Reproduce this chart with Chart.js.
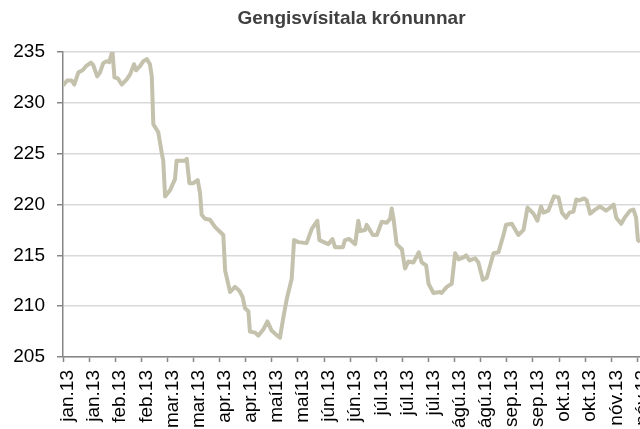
<!DOCTYPE html>
<html><head><meta charset="utf-8">
<script src="https://cdn.jsdelivr.net/npm/chart.js@4/dist/chart.umd.min.js"></script>
<style>html,body{margin:0;padding:0;background:#fff;overflow:hidden}#wrap{width:640px;height:429px;position:relative}</style>
</head><body><div id="wrap"><canvas id="c" width="640" height="429"></canvas></div>
<script>
const chartTitle = 'Gengisvísitala krónunnar';
const tickLabels = ['jan.13','jan.13','feb.13','feb.13','mar.13','mar.13','apr.13','apr.13','maí13','maí13','jún.13','jún.13','júl.13','júl.13','júl.13','ágú.13','ágú.13','sep.13','sep.13','okt.13','okt.13','nóv.13','nóv.13'];
const dayIndex = [0,1.6,3.3,4.3,5.9,7.5,8.8,10.7,11.6,13.1,14.2,15.4,16.7,17.7,18.7,19,19.7,21,22.5,24.4,25.7,27.2,28,29.5,30.8,32.1,33.3,34,34.6,36.5,37.8,38.4,39.1,41,42.9,43.5,46.7,47.4,48.4,49.9,51.6,52.5,53.1,54.4,56.3,58.2,60.2,61.4,62.1,64,65.9,67.6,68.8,69.7,71,71.6,73.6,74.8,76.7,78.3,79.9,81.6,83.1,84.4,85.7,87.6,88.5,90.1,93.3,95.3,97.4,98.2,101.6,103.2,104.2,107.2,108,109.6,111.9,113.1,113.8,115.7,116.3,118.7,120.2,122.1,124,125.3,125.9,126.6,127.8,129.8,131,132.3,134.2,136.3,137.4,139.1,140,141.9,144.4,145,147,148.9,150.2,151.5,153.4,154.4,155.7,157.9,159.1,160.8,162.3,164.9,166.8,168.7,169.7,171.9,174.4,176.4,177.9,180.2,181.7,183.1,184,185.9,188.1,189.8,191.1,192.7,194,195.5,196.6,197.8,199.6,200.6,201.9,203.8,205.7,208,209.6,210.9,211.9,213.8,215.1,217.2,218.5,219.5,220.2,221];
const indexValues = [231.7,232.2,232.2,231.8,233.0,233.2,233.6,233.95,233.7,232.6,233.0,233.9,234.1,234.0,234.9,234.9,232.5,232.4,231.8,232.3,232.8,233.8,233.2,233.6,234.1,234.3,233.8,232.6,227.9,227.1,225.1,224.3,220.8,221.4,222.5,224.3,224.3,224.5,222.1,222.1,222.4,221.1,219.0,218.6,218.5,217.8,217.3,217.0,213.5,211.4,211.9,211.5,210.9,209.8,209.5,207.5,207.4,207.1,207.7,208.5,207.6,207.2,206.9,208.9,210.7,212.7,216.5,216.3,216.2,217.6,218.4,216.5,216.1,216.6,215.8,215.8,216.5,216.6,216.1,218.4,217.4,217.5,218.0,217.0,217.0,218.3,218.2,218.6,219.6,218.6,216.1,215.6,213.7,214.4,214.3,215.3,214.3,214.0,212.2,211.3,211.4,211.3,211.9,212.2,215.2,214.6,214.8,215.0,214.5,214.7,214.3,212.6,212.8,215.2,215.3,217.0,218.0,218.1,217.0,217.5,219.7,219.1,218.4,219.8,219.2,219.4,220.8,220.7,219.2,218.7,219.2,219.3,220.5,220.4,220.6,220.4,219.1,219.5,219.8,219.4,219.7,220.0,218.7,218.1,218.7,219.4,219.5,218.7,216.5,216.3];
const yMin = 205, yMax = 235, yStep = 5;
const FONT = "'Liberation Sans', Arial, sans-serif";

new Chart(document.getElementById('c'), {
  type: 'line',
  data: {
    datasets: [{
      data: dayIndex.map((x, i) => ({x: x, y: indexValues[i]})),
      borderColor: '#C4C1AC',
      borderWidth: 4,
      pointRadius: 0,
      tension: 0,
      borderJoinStyle: 'round',
      fill: false
    }]
  },
  options: {
    responsive: false,
    animation: false,
    devicePixelRatio: 1,
    layout: {padding: 0},
    plugins: {
      legend: {display: false},
      tooltip: {enabled: false},
      title: {
        display: true, text: chartTitle, fullSize: false, color: '#404040',
        font: {family: FONT, size: 19, weight: 'bold', lineHeight: 1.2},
        padding: {top: 7, bottom: 22.2}
      }
    },
    scales: {
      x: {
        type: 'linear', min: 0, max: 221,
        grid: {display: true, drawOnChartArea: false, drawTicks: true, tickLength: 5, tickColor: '#868686', tickWidth: 1.5},
        border: {color: '#868686', width: 1.5},
        afterBuildTicks: s => { s.ticks = tickLabels.map((_, i) => ({value: i * 10})); },
        ticks: {
          autoSkip: false, maxRotation: 90, minRotation: 90, padding: 8, labelOffset: 5,
          color: '#000', font: {family: FONT, size: 19},
          callback: (v) => { const l = tickLabels[Math.round(v / 10)]; return l === undefined ? '' : l; }
        },
        afterFit: s => { s.height = 72; s.paddingLeft = 0; s.paddingRight = 0; }
      },
      y: {
        min: yMin, max: yMax,
        ticks: {stepSize: yStep, padding: 12, color: '#000', font: {family: FONT, size: 19}},
        grid: {color: '#D9D9D9', tickColor: '#868686', tickLength: 6, lineWidth: 1.5},
        border: {color: '#868686', width: 1.5},
        afterFit: s => { s.width = 63; }
      }
    }
  }
});
</script>
</body></html>
